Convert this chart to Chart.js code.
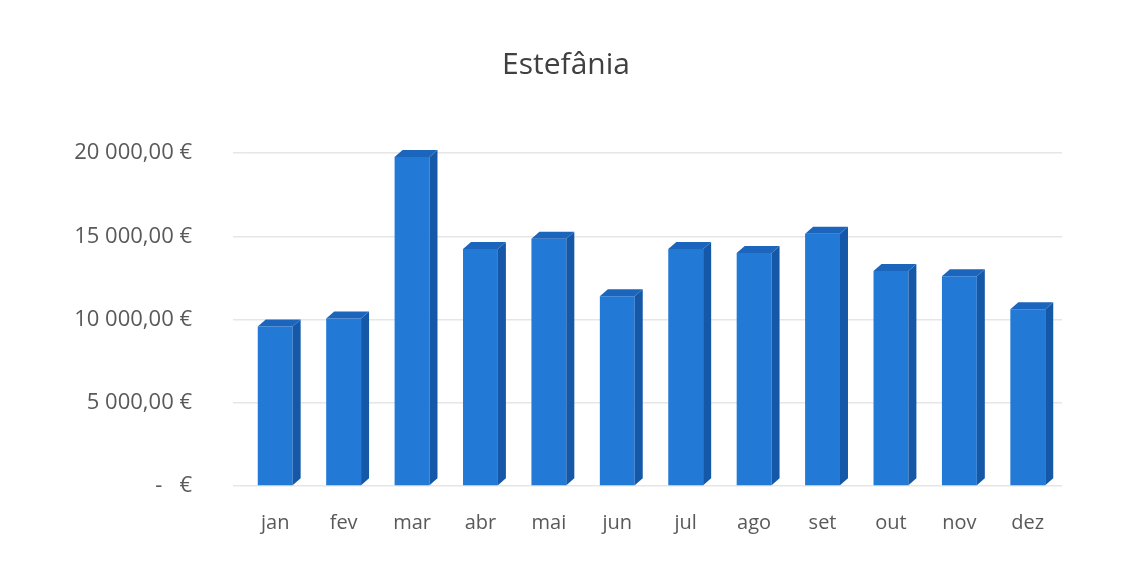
<!DOCTYPE html>
<html>
<head>
<meta charset="utf-8">
<script src="https://cdn.jsdelivr.net/npm/chart.js@4"></script>
<style>
  html, body { margin: 0; padding: 0; background: #fff; }
  #wrap { width: 1133px; height: 569px; }
</style>
</head>
<body>
<div id="wrap"><canvas id="chart"></canvas></div>
<script>
const months = ['jan', 'fev', 'mar', 'abr', 'mai', 'jun', 'jul', 'ago', 'set', 'out', 'nov', 'dez'];
const values = [9580, 10060, 19760, 14240, 14850, 11390, 14240, 14000, 15150, 12910, 12600, 10610];
const yTicks = [0, 5000, 10000, 15000, 20000];

// format like "20 000,00 €"
function euro(v) {
    if (v === 0) return '-   €';
    const s = Math.round(v).toString().replace(/\B(?=(\d{3})+(?!\d))/g, ' ');
    return s + ',00 €';
}

// fake the excel 3d look: a dark side face and a top cap on every bar
const bar3d = {
    id: 'bar3d',
    afterDatasetsDraw(chart) {
        const ctx = chart.ctx;
        const depth = 8;
        const rise = 7;
        chart.getDatasetMeta(0).data.forEach((bar) => {
            const left = bar.x - bar.width / 2;
            const right = bar.x + bar.width / 2;
            const top = bar.y;
            const bottom = bar.base;
            ctx.save();
            ctx.fillStyle = '#1558a8';
            ctx.beginPath();
            ctx.moveTo(right, top);
            ctx.lineTo(right + depth, top - rise);
            ctx.lineTo(right + depth, bottom - rise);
            ctx.lineTo(right, bottom);
            ctx.closePath();
            ctx.fill();
            ctx.fillStyle = '#1b65bd';
            ctx.beginPath();
            ctx.moveTo(left, top);
            ctx.lineTo(left + depth, top - rise);
            ctx.lineTo(right + depth, top - rise);
            ctx.lineTo(right, top);
            ctx.closePath();
            ctx.fill();
            ctx.restore();
        });
    }
};

new Chart(document.getElementById('chart'), {
    type: 'bar',
    data: {
        labels: months,
        datasets: [{
            data: values,
            backgroundColor: '#2379d6',
            barPercentage: 0.6,
            categoryPercentage: 0.85
        }]
    },
    options: {
        responsive: true,
        maintainAspectRatio: false,
        animation: false,
        layout: { padding: { left: 70, right: 71, top: 47, bottom: 17 } },
        plugins: {
            legend: { display: false },
            tooltip: { enabled: false },
            title: {
                display: true,
                text: 'Estefânia',
                color: '#404040',
                font: { family: 'Open Sans', size: 30, weight: 'normal' },
                padding: { top: 0, bottom: 70 }
            }
        },
        scales: {
            x: {
                grid: { display: false },
                border: { display: false },
                ticks: {
                    color: '#595959',
                    font: { family: 'Open Sans', size: 20 },
                    padding: 17
                }
            },
            y: {
                min: 0,
                max: 20000,
                afterBuildTicks: (axis) => { axis.ticks = yTicks.map(v => ({ value: v })); },
                afterFit: (axis) => { axis.width = 171; },
                grid: { color: '#e6e6e6', lineWidth: 1.5 },
                border: { display: false },
                ticks: {
                    color: '#595959',
                    font: { family: 'Open Sans', size: 22 },
                    padding: 41,
                    callback: (v) => euro(v)
                }
            }
        }
    },
    plugins: [bar3d]
});
</script>
</body>
</html>
